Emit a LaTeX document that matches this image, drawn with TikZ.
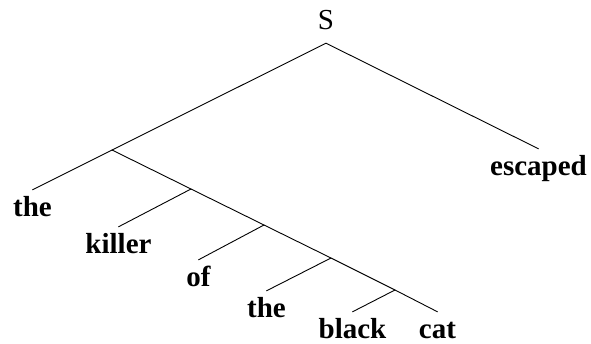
\documentclass[tikz,border=0pt]{standalone}
\usepackage{fontspec}
\setmainfont{Liberation Serif}
\begin{document}
\begin{tikzpicture}[x=1pt,y=-1pt,
  every node/.style={font=\fontsize{29}{32}\selectfont},
  leaf/.style={anchor=base,font=\fontsize{29}{32}\selectfont\bfseries,inner xsep=0pt,inner ysep=6pt,text height=20pt,text depth=0pt},
  root/.style={anchor=base,inner xsep=0pt,inner ysep=14pt,text depth=0pt},
  edge/.style={line width=0.9pt,line cap=round}]
\useasboundingbox (0,0) rectangle (591,343);
\node[root] (S) at (326,29) {S};
\coordinate (n1) at (112,150);
\coordinate (n2) at (191,189);
\coordinate (n3) at (264,225);
\coordinate (n4) at (331,258);
\coordinate (n5) at (395,290);
\node[leaf] (esc) at (538.5,175) {escaped};
\node[leaf] (the1) at (32.5,216) {the};
\node[leaf] (killer) at (118.5,253) {killer};
\node[leaf] (of) at (198.5,286) {of};
\node[leaf] (the2) at (266.5,317) {the};
\node[leaf] (black) at (352.5,338) {black};
\node[leaf] (cat) at (437.5,338) {cat};
\draw[edge] (S.south) -- (esc.north);
\draw[edge] (S.south) -- (n1);
\draw[edge] (n1) -- (the1.north);
\draw[edge] (n1) -- (n2) -- (n3) -- (n4) -- (n5) -- (cat.north);
\draw[edge] (n2) -- (killer.north);
\draw[edge] (n3) -- (of.north);
\draw[edge] (n4) -- (the2.north);
\draw[edge] (n5) -- (black.north);
\end{tikzpicture}
\end{document}
